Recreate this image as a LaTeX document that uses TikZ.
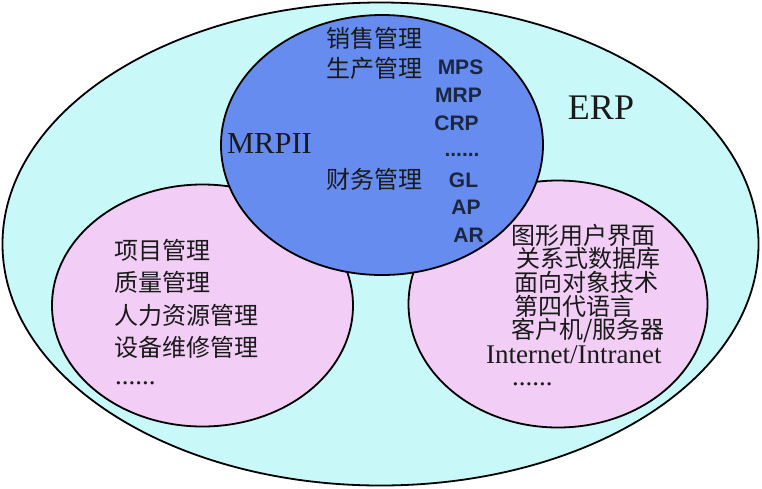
\documentclass[tikz,border=0pt]{standalone}
\usepackage{fontspec}
\setmainfont{Liberation Serif}
\newfontfamily\cjk{Noto Sans CJK SC}
\newfontfamily\arialf{Liberation Sans}
\usetikzlibrary{shapes.geometric}
\definecolor{erpfill}{HTML}{C8F8F8}
\definecolor{mrpfill}{HTML}{668CF0}
\definecolor{pinkfill}{HTML}{F2CEF6}
\definecolor{txt}{HTML}{1A1A1A}
\definecolor{navytxt}{HTML}{1B2640}
\tikzset{
  region/.style={ellipse, draw=black, line width=1.8pt, inner sep=0pt},
  cjkline/.style={anchor=west, inner sep=0pt, text=txt, font=\cjk\fontsize{24}{24}\selectfont},
  latinline/.style={inner sep=0pt, text=navytxt, font=\arialf\bfseries\fontsize{21}{21}\selectfont},
  serifline/.style={inner sep=0pt, text=txt, font=\fontsize{27}{27}\selectfont},
  bigtitle/.style={inner sep=0pt, text=txt}
}
\begin{document}
\begin{tikzpicture}[x=1pt,y=-1pt]
\useasboundingbox (0,0) rectangle (762,488);
% regions
\node[region, fill=erpfill, minimum width=756pt, minimum height=483pt] (erp) at (380.5,244) {};
\node[region, fill=pinkfill, minimum width=301pt, minimum height=242pt] (left) at (202.5,305.5) {};
\node[region, fill=pinkfill, minimum width=299pt, minimum height=247pt] (right) at (558,304) {};
\node[region, fill=mrpfill, minimum width=322pt, minimum height=260pt] (mrp) at (382,145) {};
% titles
\node[bigtitle, font=\fontsize{36}{36}\selectfont] (erpt) at (601,108) {ERP};
\node[bigtitle, font=\fontsize{30.5}{30.5}\selectfont] (mrpt) at (269.5,144) {MRPII};
% MRPII contents
\node[cjkline] (m1) at (326,38) {销售管理};
\node[cjkline] (m2) at (326,68) {生产管理};
\node[cjkline] (m3) at (326,179) {财务管理};
\node[latinline] (mps) at (460.5,67) {MPS};
\node[latinline] (mrp2) at (458.5,95) {MRP};
\node[latinline] (crp) at (456.5,123) {CRP};
\node[latinline] (mdots) at (462,155) {......};
\node[latinline] (gl) at (463.5,180) {GL};
\node[latinline] (ap) at (466,207) {AP};
\node[latinline] (ar) at (468.5,235) {AR};
% left contents
\node[cjkline] (l1) at (114,250) {项目管理};
\node[cjkline] (l2) at (114,282) {质量管理};
\node[cjkline] (l3) at (114,315) {人力资源管理};
\node[cjkline] (l4) at (114,347) {设备维修管理};
\node[serifline, anchor=west] (l5) at (115,383) {......};
% right contents
\node[cjkline] (r1) at (511,235) {图形用户界面};
\node[cjkline] (r2) at (516,258) {关系式数据库};
\node[cjkline] (r3) at (514,282) {面向对象技术};
\node[cjkline] (r4) at (514,306) {第四代语言};
\node[cjkline] (r5) at (511,330) {客户机/服务器};
\node[serifline, anchor=west] (r6) at (486,355) {Internet/Intranet};
\node[serifline, anchor=west] (r7) at (512,384) {......};
\end{tikzpicture}
\end{document}
